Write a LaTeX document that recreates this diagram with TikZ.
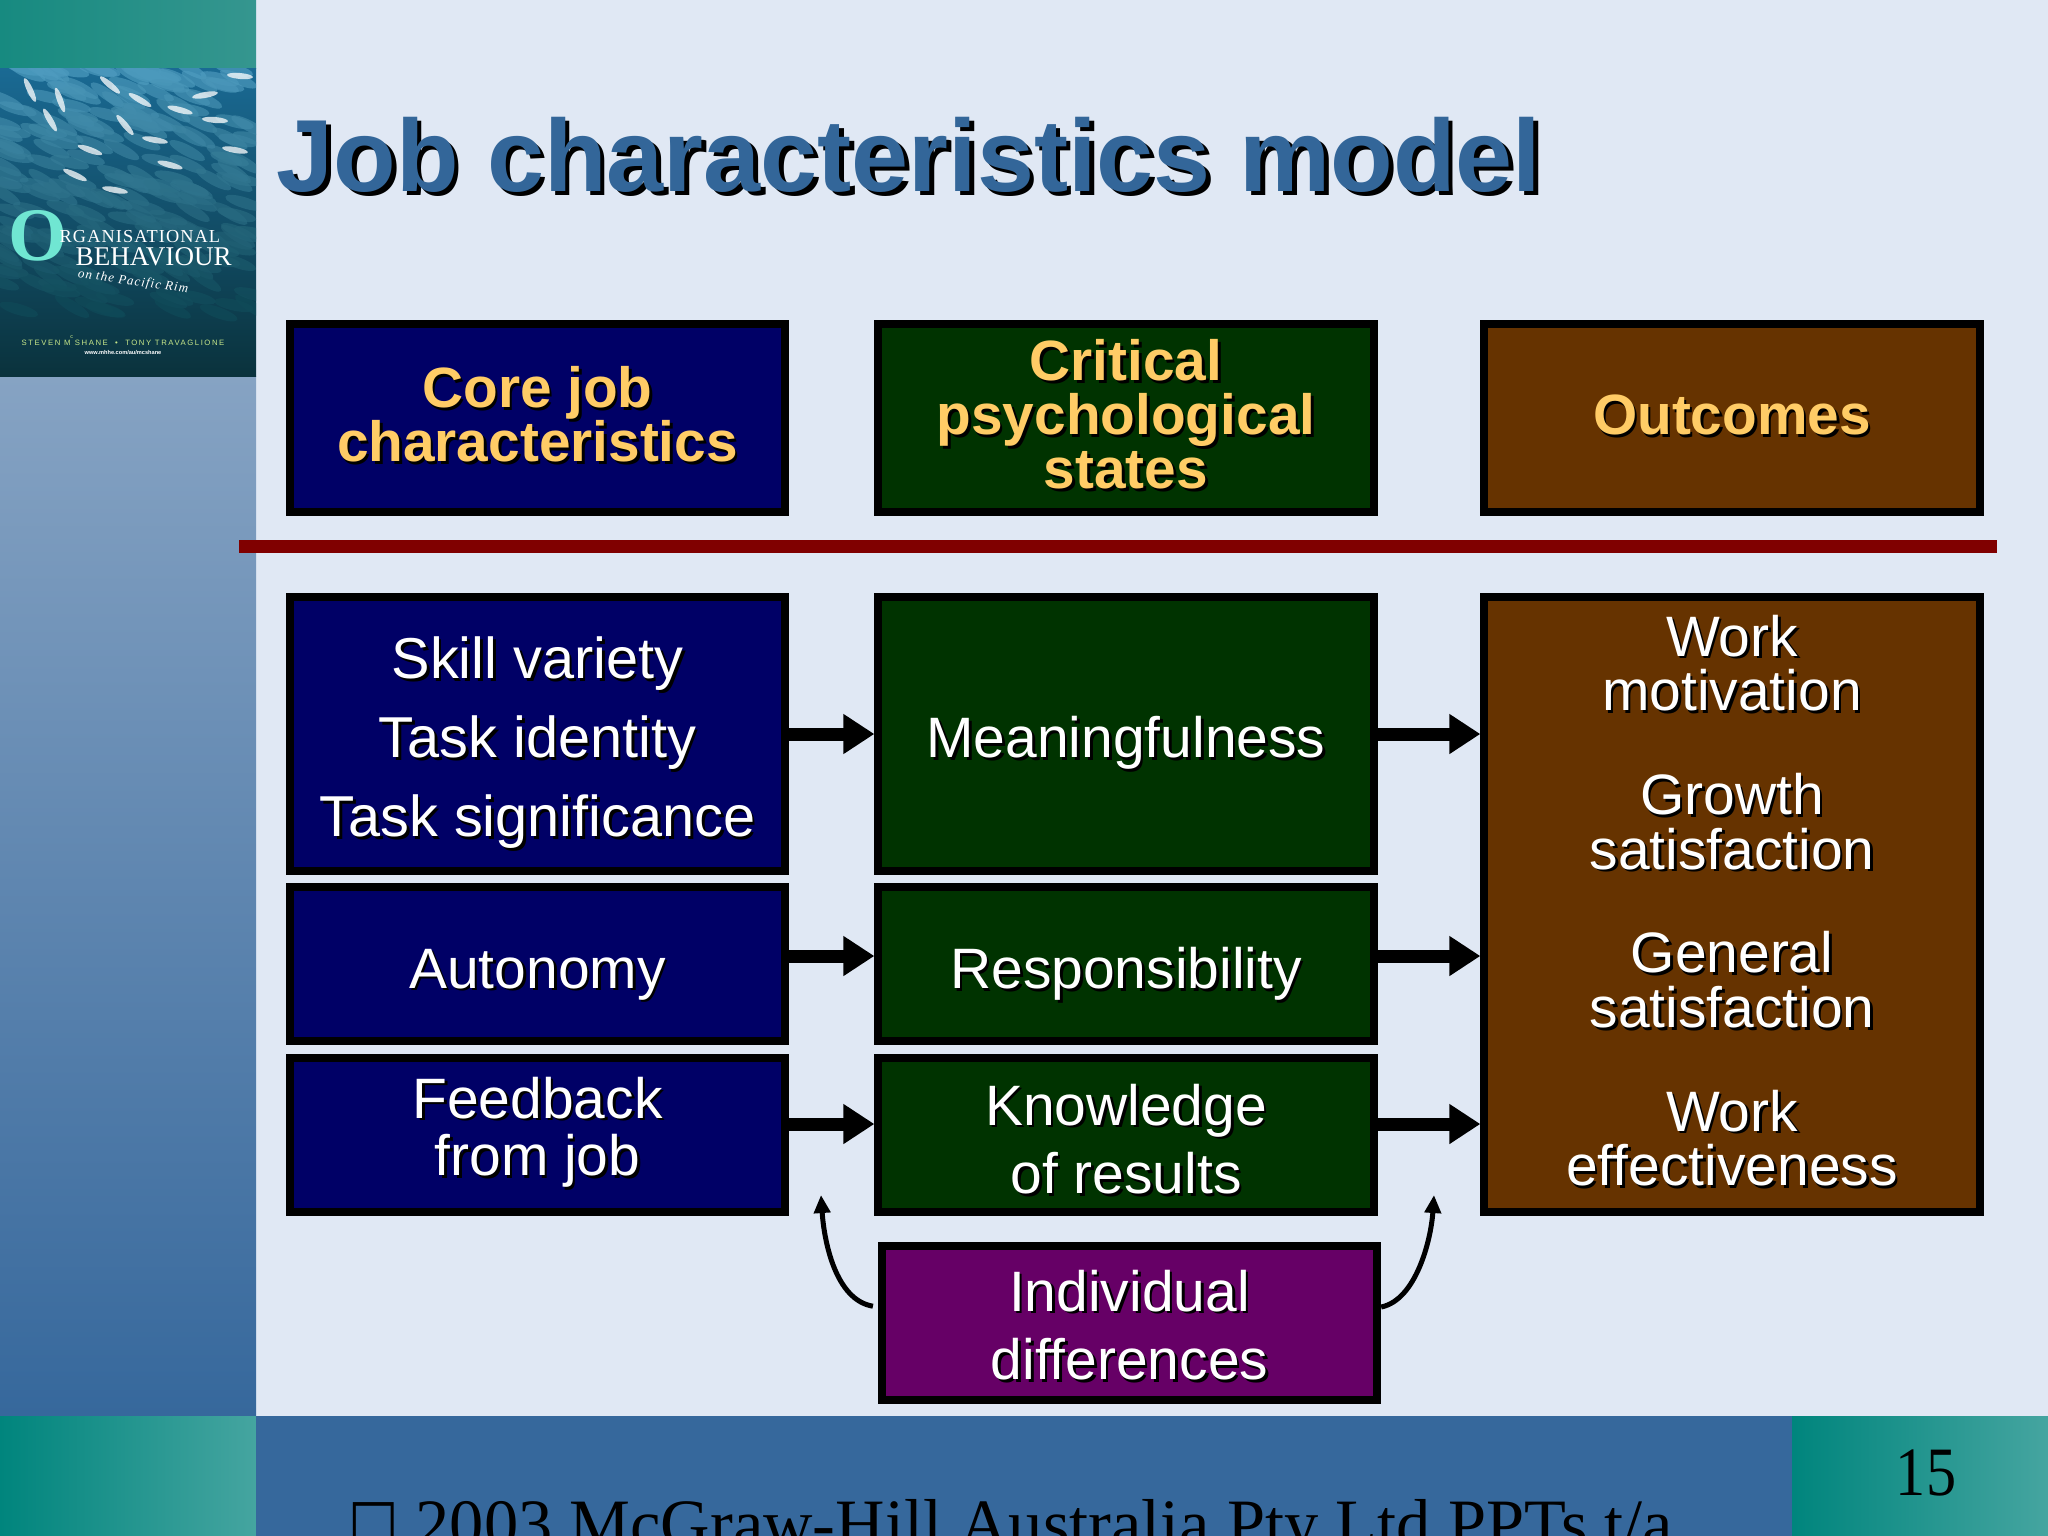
\documentclass[tikz,border=0pt]{standalone}
\usepackage{fontspec}
\usepackage{xcolor}
\setmainfont{Liberation Sans}
\newfontfamily\serifface{Liberation Serif}
\newfontfamily\symface{DejaVu Sans}
\usetikzlibrary{arrows.meta,positioning,calc}

\definecolor{pagebg}{HTML}{E0E8F4}
\definecolor{navybox}{HTML}{000066}
\definecolor{greenbox}{HTML}{003300}
\definecolor{brownbox}{HTML}{663300}
\definecolor{purplebox}{HTML}{660066}
\definecolor{goldtext}{HTML}{FFCC66}
\definecolor{titleblue}{HTML}{336699}
\definecolor{barblue}{HTML}{36689C}
\definecolor{rulered}{HTML}{800000}
\definecolor{sidetop}{HTML}{86A3C3}
\definecolor{tealdark}{HTML}{00857D}
\definecolor{teallight}{HTML}{45A5A0}
\definecolor{tealtopa}{HTML}{178A80}
\definecolor{tealtopb}{HTML}{35968F}
\definecolor{phototop}{HTML}{1A6A94}
\definecolor{photomid}{HTML}{135A70}
\definecolor{photobot}{HTML}{0A323C}
\definecolor{fishlight}{HTML}{4E9CC0}
\definecolor{fishdark}{HTML}{0F4A58}
\definecolor{bookaqua}{HTML}{70E6D2}
\definecolor{bookgreen}{HTML}{C8E88A}

\newcommand{\shl}[1]{\makebox[0pt][l]{\smash{\raisebox{-.75pt}{\hspace{.75pt}\color{black}#1}}}#1}
\newcommand{\shtitle}[1]{\makebox[0pt][l]{\smash{\raisebox{-1.3pt}{\hspace{1.3pt}\color{black}#1}}}#1}

\tikzset{
	tile/.style={draw=black,line width=.08cm,minimum width=4.95cm,align=center,text=white,font=\fontsize{16.2}{15.7}\selectfont},
	hdrtile/.style={tile,minimum height=1.88cm,text=goldtext,text depth=2.2pt,font=\fontsize{16.15}{15.4}\selectfont\bfseries},
	bigarrow/.style={line width=.13cm,-{Triangle[length=.31cm,width=.38cm]}},
	thinarrow/.style={line width=.05cm,-{Triangle[length=.18cm,width=.16cm]}}
}

\begin{document}
\begin{tikzpicture}[x=.01cm,y=-.01cm]
	\useasboundingbox (0,0) rectangle (2048,1536);
	
	\fill[pagebg] (0,0) rectangle (2048,1536);
	\shade[top color=sidetop,bottom color=barblue] (0,376) rectangle (256,1416);
	\shade[left color=tealtopa,right color=tealtopb] (0,0) rectangle (256,68);
	\shade[left color=tealdark,right color=teallight] (0,1416) rectangle (256,1536);
	\fill[barblue] (256,1416) rectangle (1792,1536);
	\shade[left color=tealdark,right color=teallight] (1792,1416) rectangle (2048,1536);
	
	\begin{scope}
		\clip (0,68) rectangle (256,376);
		\shade[top color=phototop,middle color=photomid,bottom color=photobot] (0,68) rectangle (256,376);
		\pgfmathsetseed{11}
		\foreach \i in {1,...,230} {
			\pgfmathsetmacro{\fx}{rnd*256}
			\pgfmathsetmacro{\fy}{68+rnd*245}
			\pgfmathsetmacro{\fa}{10+rnd*25}
			\pgfmathsetmacro{\fmix}{max(0,100-(\fy-68)/2.4)}
			\fill[fishlight!\fmix!fishdark,opacity=.7,rotate around={-\fa:(\fx,\fy)}] (\fx,\fy) ellipse (.2cm and .055cm);
		}
		\foreach \fx/\fy/\fa in {110/85/-40,125/125/-50,205/95/10,240/76/-5,50/120/-60,155/140/-10,170/165/-15,115/190/-10,60/100/-70,215/120/-5,90/150/-20,180/110/-15,30/90/-65,140/100/-30,235/150/-10,75/175/-25} {
			\fill[white,opacity=.75,rotate around={\fa:(\fx,\fy)}] (\fx,\fy) ellipse (.13cm and .03cm);
		}
	\end{scope}
	
	\node[text=bookaqua,inner sep=0,font=\serifface\bfseries\fontsize{21.5}{22}\selectfont] (bookO) at (38,236) {O};
	\node[text=white,inner sep=0,anchor=base west,font=\serifface\fontsize{5.2}{5}\selectfont] (bookOrg) at (59,242) {\addfontfeature{LetterSpace=6}RGANISATIONAL};
	\node[text=white,inner sep=0,anchor=base west,font=\serifface\fontsize{7.7}{8}\selectfont] (bookBeh) at (75,265) {BEHAVIOUR};
	\node[text=white,inner sep=0,rotate=-8,font=\serifface\itshape\fontsize{3.7}{4}\selectfont] (bookRim) at (133,282) {\addfontfeature{LetterSpace=8}on the Pacific Rim};
	\node[text=bookgreen,inner sep=0,font=\fontsize{2.2}{3}\selectfont] (bookAuth) at (123,341) {\addfontfeature{LetterSpace=20}STEVEN M\textsuperscript{c}SHANE\ \ •\ \ TONY TRAVAGLIONE};
	\node[text=white,inner sep=0,font=\bfseries\fontsize{1.6}{2}\selectfont] (bookUrl) at (123,353) {www.mhhe.com/au/mcshane};
	
	\node[text=titleblue,inner sep=0,anchor=base west,font=\fontsize{29.15}{30}\selectfont\bfseries] (title) at (276,191) {\shtitle{Job characteristics model}};
	
	\node[hdrtile,fill=navybox] (coreHdr) at (537.5,418) {\shl{Core job}\\\shl{characteristics}};
	\node[hdrtile,fill=greenbox] (statesHdr) at (1126,418) {\shl{Critical}\\\shl{psychological}\\\shl{states}};
	\node[hdrtile,fill=brownbox,text depth=1.7pt] (outHdr) at (1732,418) {\shl{Outcomes}};
	
	\draw[rulered,line width=.13cm] (239,546) -- (1997,546);
	
	\node[tile,fill=navybox,minimum height=2.74cm,text height=58.5pt,text depth=0pt,font=\fontsize{16.4}{15.7}\selectfont] (skills) at (537.5,734) {\shl{Skill variety}\\[.24cm]\shl{Task identity}\\[.24cm]\shl{Task significance}};
	\node[tile,fill=navybox,minimum height=1.54cm,text height=13.8pt,text depth=0pt] (autonomy) at (537.5,964) {\shl{Autonomy}};
	\node[tile,fill=navybox,minimum height=1.54cm,text depth=4.9pt] (feedback) at (537.5,1135) {\shl{Feedback}\\[.026cm]\shl{from job}};
	
	\node[tile,fill=greenbox,minimum height=2.74cm,text height=13.3pt,text depth=0pt] (meaning) at (1126,734) {\shl{Meaningfulness}};
	\node[tile,fill=greenbox,minimum height=1.54cm,text height=14pt,text depth=0pt] (respons) at (1126,964) {\shl{Responsibility}};
	\node[tile,fill=greenbox,minimum height=1.54cm,text height=33.4pt,text depth=0pt] (knowledge) at (1126,1135) {\shl{Knowledge}\\[.133cm]\shl{of results}};
	
	\node[tile,fill=brownbox,minimum height=6.15cm,text depth=2.4pt,font=\fontsize{16.2}{15.55}\selectfont] (outcomes) at (1732,904.5) {\shl{Work}\\\shl{motivation}\\[.49cm]\shl{Growth}\\\shl{satisfaction}\\[.49cm]\shl{General}\\\shl{satisfaction}\\[.49cm]\shl{Work}\\\shl{effectiveness}};
	
	\node[tile,fill=purplebox,minimum height=1.54cm,text height=32.25pt,text depth=0pt] (indiv) at (1129.5,1323) {\shl{Individual}\\[.133cm]\shl{differences}};
	
	\draw[bigarrow] (skills.east) -- (meaning.west);
	\draw[bigarrow] (autonomy.east |- 0,956) -- (respons.west |- 0,956);
	\draw[bigarrow] (feedback.east |- 0,1124) -- (knowledge.west |- 0,1124);
	\draw[bigarrow] (meaning.east) -- (outcomes.west |- meaning.east);
	\draw[bigarrow] (respons.east |- 0,956) -- (outcomes.west |- 0,956);
	\draw[bigarrow] (knowledge.east |- 0,1124) -- (outcomes.west |- 0,1124);
	
	\coordinate (leftTip) at (821,1195);
	\coordinate (rightTip) at (1434,1195);
	\draw[thinarrow,shorten <=.05cm] (indiv.west |- 0,1307) .. controls (835,1300) and (824,1240) .. (leftTip);
	\draw[thinarrow] (indiv.east |- 0,1307) .. controls (1416,1300) and (1431,1240) .. (rightTip);
	
	\node[inner sep=0,transform shape,xscale=.87,anchor=base,font=\serifface\fontsize{19.7}{20}\selectfont] (pageNo) at (1926,1495) {15};
	\begin{scope}
		\clip (256,1416) rectangle (1792,1536);
		\node[inner sep=0,anchor=base west,transform shape,xscale=.8,font=\symface\fontsize{19}{19}\selectfont] (boxGlyph) at (348,1545) {□};
		\node[inner sep=0,anchor=base west,transform shape,xscale=.988,font=\serifface\fontsize{19.7}{20}\selectfont] (copyright) at (415,1547) {2003 McGraw-Hill Australia Pty Ltd PPTs t/a};
	\end{scope}
\end{tikzpicture}
\end{document}
